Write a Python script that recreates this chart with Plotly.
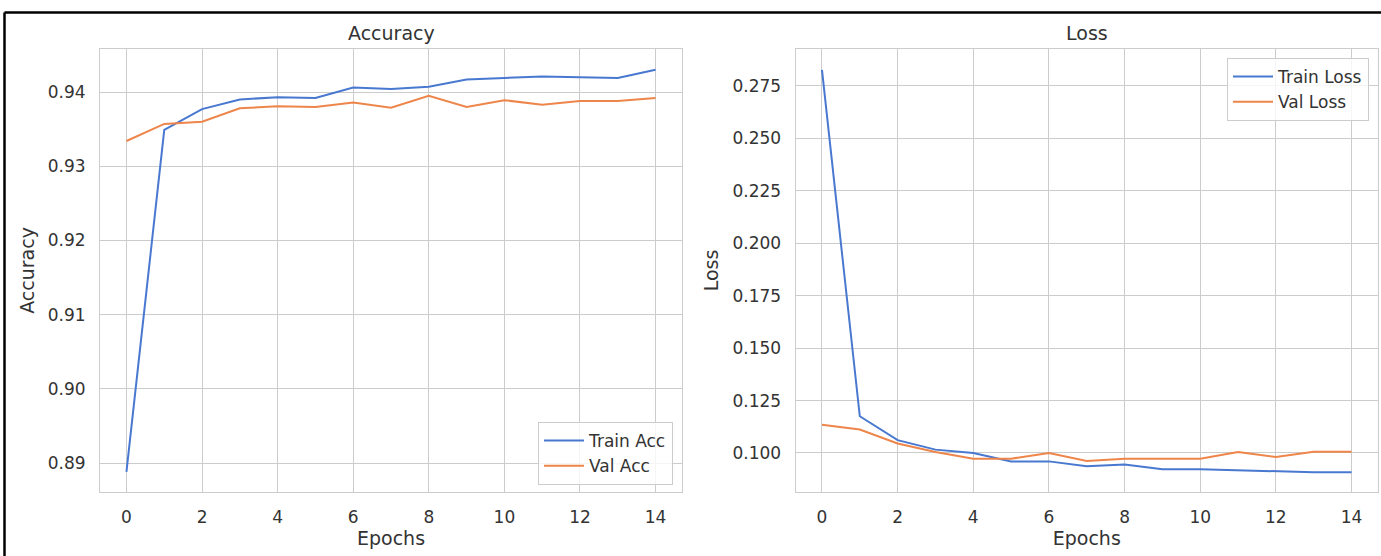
import plotly.graph_objects as go

epochs = list(range(15))
train_acc = [0.8888, 0.9349, 0.9377, 0.9390, 0.9393, 0.9392, 0.9406, 0.9404,
             0.9407, 0.9417, 0.9419, 0.9421, 0.9420, 0.9419, 0.9430]
val_acc = [0.9334, 0.9357, 0.9360, 0.9378, 0.9381, 0.9380, 0.9386, 0.9379,
           0.9395, 0.9380, 0.9389, 0.9383, 0.9388, 0.9388, 0.9392]
train_loss = [0.2826, 0.1175, 0.1061, 0.1016, 0.1000, 0.0960, 0.0960, 0.0937,
              0.0945, 0.0922, 0.0923, 0.0917, 0.0911, 0.0908, 0.0908]
val_loss = [0.1135, 0.1112, 0.1045, 0.1005, 0.0973, 0.0973, 0.1000, 0.0962,
            0.0973, 0.0973, 0.0973, 0.1005, 0.0981, 0.1006, 0.1006]

acc_ticks = [0.89, 0.90, 0.91, 0.92, 0.93, 0.94]
loss_ticks = [0.100, 0.125, 0.150, 0.175, 0.200, 0.225, 0.250, 0.275]
x_ticks = [0, 2, 4, 6, 8, 10, 12, 14]

BLUE = "#4878d0"
ORANGE = "#ee854a"
GRID = "#cccccc"
TXT = "#333333"
FONT = "DejaVu Sans"

W, H = 1381, 556

fig = go.Figure()
fig.add_trace(go.Scatter(x=epochs, y=train_acc, mode="lines", name="Train Acc",
                         line=dict(color=BLUE, width=2), xaxis="x", yaxis="y", legend="legend"))
fig.add_trace(go.Scatter(x=epochs, y=val_acc, mode="lines", name="Val Acc",
                         line=dict(color=ORANGE, width=2), xaxis="x", yaxis="y", legend="legend"))
fig.add_trace(go.Scatter(x=epochs, y=train_loss, mode="lines", name="Train Loss",
                         line=dict(color=BLUE, width=2), xaxis="x2", yaxis="y2", legend="legend2"))
fig.add_trace(go.Scatter(x=epochs, y=val_loss, mode="lines", name="Val Loss",
                         line=dict(color=ORANGE, width=2), xaxis="x2", yaxis="y2", legend="legend2"))

ydom = [1 - 492 / H, 1 - 49 / H]
d1 = [100 / W, 682 / W]
d2 = [795.5 / W, 1378 / W]

common_ax = dict(showgrid=True, gridcolor=GRID, gridwidth=1, showline=True, linecolor=GRID,
                 linewidth=1, mirror=True, zeroline=False, ticks="", ticklabelstandoff=10,
                 tickfont=dict(family=FONT, size=17, color=TXT))
tfont = dict(family=FONT, size=19, color=TXT)

fig.update_layout(
    width=W, height=H,
    margin=dict(l=0, r=0, t=0, b=0),
    paper_bgcolor="white", plot_bgcolor="white",
    font=dict(family=FONT, color=TXT),
    xaxis=dict(domain=d1, anchor="y", range=[-0.7, 14.7], tickvals=x_ticks,
               title=dict(text="Epochs", font=tfont, standoff=3), **common_ax),
    yaxis=dict(domain=ydom, anchor="x", range=[0.8861, 0.9458], tickvals=acc_ticks,
               tickformat=".2f",
               title=dict(text="Accuracy", font=tfont, standoff=8), **common_ax),
    xaxis2=dict(domain=d2, anchor="y2", range=[-0.7, 14.7], tickvals=x_ticks,
                title=dict(text="Epochs", font=tfont, standoff=3), **common_ax),
    yaxis2=dict(domain=ydom, anchor="x2", range=[0.0814, 0.2926], tickvals=loss_ticks,
                tickformat=".3f",
                title=dict(text="Loss", font=tfont, standoff=8), **common_ax),
    legend=dict(x=673 / W, y=1 - 485 / H, xanchor="right", yanchor="bottom",
                bgcolor="rgba(255,255,255,0.8)", bordercolor=GRID, borderwidth=1,
                font=dict(family=FONT, size=17, color=TXT), itemwidth=40),
    legend2=dict(x=1369 / W, y=1 - 58 / H, xanchor="right", yanchor="top",
                 bgcolor="rgba(255,255,255,0.8)", bordercolor=GRID, borderwidth=1,
                 font=dict(family=FONT, size=17, color=TXT), itemwidth=40),
    annotations=[
        dict(text="Accuracy", x=(d1[0] + d1[1]) / 2, y=1 - 33 / H, xref="paper", yref="paper",
             xanchor="center", yanchor="middle", showarrow=False, font=tfont),
        dict(text="Loss", x=(d2[0] + d2[1]) / 2, y=1 - 33 / H, xref="paper", yref="paper",
             xanchor="center", yanchor="middle", showarrow=False, font=tfont),
    ],
    shapes=[
        dict(type="line", xref="paper", yref="paper", x0=4.5 / W, x1=1.0, y0=1 - 12.5 / H, y1=1 - 12.5 / H,
             line=dict(color="black", width=2.5)),
        dict(type="line", xref="paper", yref="paper", x0=4.5 / W, x1=4.5 / W, y0=0.0, y1=1 - 12.5 / H,
             line=dict(color="black", width=2.5)),
    ],
)

fig.write_html(
    "out.html",
    config={"displayModeBar": False},
    post_script="document.body.style.margin='0';document.body.style.overflow='hidden';",
)
